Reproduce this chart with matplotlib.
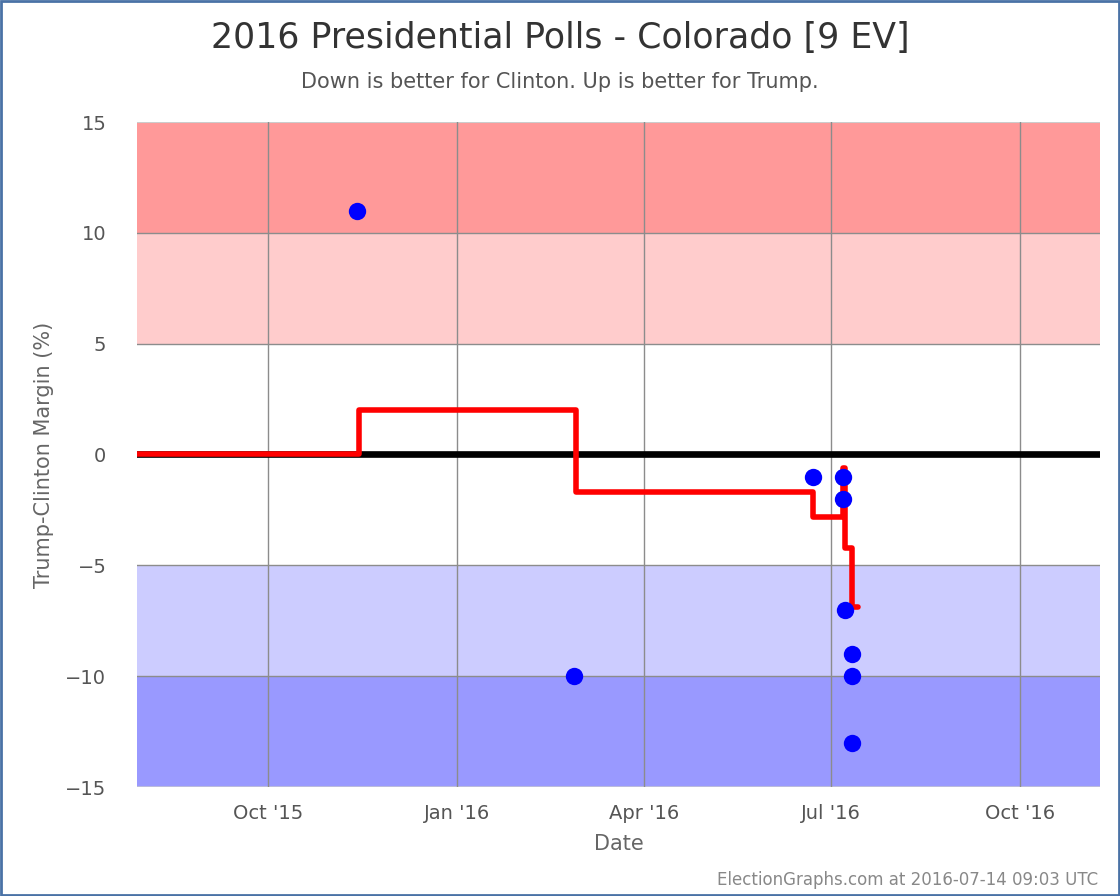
import matplotlib
matplotlib.use("Agg")
import matplotlib.pyplot as plt
import matplotlib.dates as mdates
import numpy as np
from datetime import datetime
from matplotlib.patches import Rectangle

# ---- data ----
poll_dates = ["2015-11-13", "2016-02-27", "2016-06-22", "2016-07-07", "2016-07-07",
              "2016-07-08", "2016-07-11", "2016-07-11", "2016-07-11"]
poll_margins = [11, -10, -1, -1, -2, -7, -9, -10, -13]

avg_dates = ["2015-07-29", "2015-11-14", "2015-11-14", "2016-02-28", "2016-02-28",
             "2016-06-22", "2016-06-22", "2016-07-07", "2016-07-07", "2016-07-08",
             "2016-07-08", "2016-07-11", "2016-07-11", "2016-07-14"]
avg_values = [0, 0, 2, 2, -1.7, -1.7, -2.8, -2.8, -0.6, -0.6, -4.2, -4.2, -6.9, -6.9]

band_edges = [15, 10, 5, -5, -10, -15]
band_colors = ["#ff9999", "#ffcccc", "#ffffff", "#ccccff", "#9999ff"]

xtick_dates = ["2015-10-01", "2016-01-01", "2016-04-01", "2016-07-01", "2016-10-01"]
xtick_labels = ["Oct '15", "Jan '16", "Apr '16", "Jul '16", "Oct '16"]
yticks = [15, 10, 5, 0, -5, -10, -15]

x_start, x_end = "2015-07-29", "2016-11-09"

def d(s):
    return mdates.date2num(datetime.strptime(s, "%Y-%m-%d"))

plt.rcParams['font.family'] = ['DejaVu Sans']

fig = plt.figure(figsize=(11.2, 8.96), dpi=100)
ax = fig.add_axes([137/1120, 1-787/896, (1100-137)/1120, (787-122)/896])

x0, x1 = d(x_start), d(x_end)
ax.set_xlim(x0, x1)
ax.set_ylim(-15, 15)

for i, c in enumerate(band_colors):
    top, bot = band_edges[i], band_edges[i+1]
    ax.axhspan(bot, top, color=c, zorder=0, lw=0)

for y in [10, 5, -5, -10]:
    ax.axhline(y, color="#8c8c8c", lw=1, zorder=1)
ax.axhline(15, color="#cccccc", lw=1.5, zorder=1)
ax.axhline(-15, color="#bbbbdd", lw=1.5, zorder=1)

xt = [d(s) for s in xtick_dates]
for x in xt:
    ax.axvline(x, color="#8c8c8c", lw=1, zorder=1)

ax.axhline(0, color="black", lw=4.8, zorder=2)

ax.plot([d(s) for s in avg_dates], avg_values, color="#ff0000", lw=4.0,
        solid_joinstyle="round", solid_capstyle="round", zorder=3)
ax.plot([d(s) for s in poll_dates], poll_margins, 'o', color="#0000ff",
        markersize=12.5, markeredgewidth=0, zorder=4)

ax.set_xticks(xt)
ax.set_xticklabels(xtick_labels)
ax.set_yticks(yticks)
ax.set_yticklabels([f"{v}".replace("-", "\u2212") for v in yticks])
ax.tick_params(axis='both', length=0, labelsize=14, colors="#555555")
ax.tick_params(axis='x', pad=12)
ax.tick_params(axis='y', pad=22)
for s in ax.spines.values():
    s.set_visible(False)

ax.set_xlabel("Date", fontsize=15, color="#666666", labelpad=8)
ax.set_ylabel("Trump-Clinton Margin (%)", fontsize=15, color="#666666", labelpad=8)

fig.text(0.5, 1-38/896, "2016 Presidential Polls - Colorado [9 EV]", ha="center", va="center",
         fontsize=25, color="#333333")
fig.text(0.5, 1-82/896, "Down is better for Clinton. Up is better for Trump.", ha="center",
         va="center", fontsize=15, color="#555555")
fig.text(1098/1120, 1-880/896, "ElectionGraphs.com at 2016-07-14 09:03 UTC", ha="right",
         va="center", fontsize=12, color="#888888")

fig.patches.append(Rectangle((0.001, 0.001), 0.998, 0.998, transform=fig.transFigure,
                             fill=False, edgecolor="#4a72a6", lw=2))

fig.savefig("out.png", dpi=100)
